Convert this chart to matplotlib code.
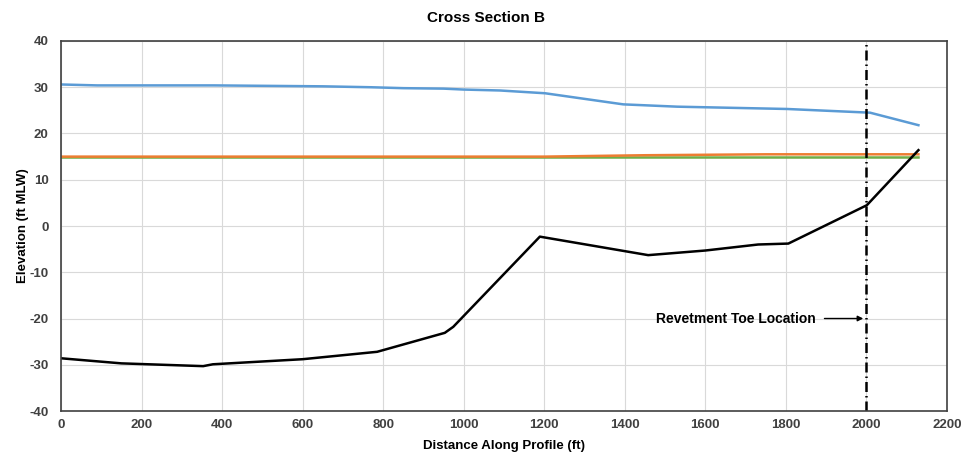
'''
cross section B: profile, water levels and revetment toe
'''
import matplotlib
matplotlib.use('Agg')
import matplotlib.pyplot as plt

plt.rcParams['font.family'] = ['Liberation Sans', 'DejaVu Sans']
plt.rcParams['font.weight'] = 'bold'
plt.rcParams['axes.unicode_minus'] = False

## bottom profile (black)
profile_x = [0, 150, 353, 377, 600, 785, 953, 974, 1189, 1458, 1600, 1731, 1806, 2001, 2129]
profile_y = [-28.6, -29.7, -30.3, -29.9, -28.8, -27.2, -23.1, -21.8, -2.3, -6.3, -5.3, -4.0, -3.8, 4.5, 16.4]

## upper line (blue)
upper_x = [0, 90, 380, 650, 770, 850, 950, 1000, 1090, 1202, 1396, 1530, 1803, 2009, 2129]
upper_y = [30.6, 30.4, 30.4, 30.2, 30.0, 29.8, 29.7, 29.5, 29.3, 28.7, 26.3, 25.8, 25.3, 24.5, 21.8]

## middle lines (orange, green)
orange_x = [0, 1200, 1450, 1750, 2129]
orange_y = [15.0, 15.0, 15.3, 15.5, 15.5]
green_x = [0, 2129]
green_y = [14.85, 14.85]

toe_x = 2000
toe_label = 'Revetment Toe Location'


def main():
	fig = plt.figure(figsize=(9.76, 4.54), dpi=100)
	ax = fig.add_axes([0.0625, 0.0947, 0.9078, 0.815])

	ax.plot(upper_x, upper_y, color='#5b9bd5', lw=1.8)
	ax.plot(green_x, green_y, color='#70ad47', lw=1.8)
	ax.plot(orange_x, orange_y, color='#ed7d31', lw=1.8)
	ax.plot(profile_x, profile_y, color='black', lw=1.8)
	ax.axvline(toe_x, color='black', lw=1.8, ls=(0, (4, 1.6, 0.6, 1.6)))

	ax.annotate(toe_label, xy=(toe_x - 8, -20), xytext=(toe_x - 125, -20),
		ha='right', va='center', fontsize=10, fontweight='bold',
		arrowprops=dict(arrowstyle='-|>', color='black', lw=1, mutation_scale=8,
			shrinkA=4, shrinkB=0))

	ax.set_xlim(0, 2200)
	ax.set_ylim(-40, 40)
	ax.set_xticks(range(0, 2201, 200))
	ax.set_yticks(range(-40, 41, 10))
	ax.grid(True, color='#d9d9d9', lw=0.8)
	ax.set_axisbelow(True)
	for s in ax.spines.values():
		s.set_color('#404040')
		s.set_linewidth(1.2)
	ax.tick_params(axis='x', length=0, labelsize=9.5, colors='#404040', pad=6)
	ax.tick_params(axis='y', length=0, labelsize=9.5, colors='#404040', pad=9)
	for lab in ax.get_xticklabels() + ax.get_yticklabels():
		lab.set_fontweight('bold')

	ax.set_xlabel('Distance Along Profile (ft)', fontsize=9.5, fontweight='bold', labelpad=6)
	ax.set_ylabel('Elevation (ft MLW)', fontsize=9.5, fontweight='bold', labelpad=0)
	fig.suptitle('Cross Section B', x=0.498, y=0.975, fontsize=11, fontweight='bold')

	fig.savefig('out.png', dpi=100)


if __name__ == '__main__':
	main()
